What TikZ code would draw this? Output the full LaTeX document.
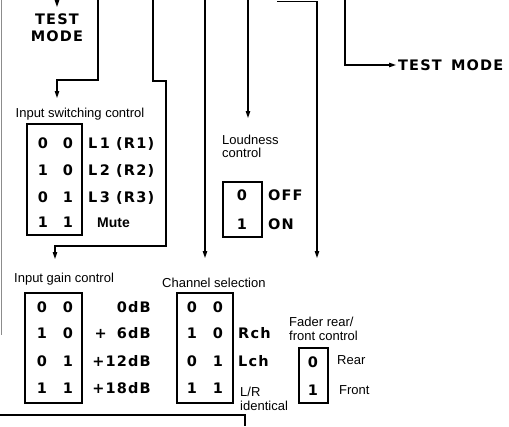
\documentclass[tikz,border=0pt]{standalone}
\usepackage{fontspec}
\setmainfont{Liberation Sans}
\newfontfamily\widefont[LetterSpace=8]{DejaVu Sans Bold}
\usetikzlibrary{arrows.meta}
\begin{document}
\begin{tikzpicture}[x=1pt,y=-1pt,
  wire/.style={line width=1.1pt},
  arr/.style={wire,-{Triangle[length=7pt,width=4.5pt]}},
  lbl/.style={font=\fontsize{13}{14}\selectfont, inner sep=0pt, text height=9.3pt, text depth=0pt},
  big/.style={font=\widefont\fontsize{14.5}{16}\selectfont, inner sep=0pt, text height=10.6pt, text depth=0pt},
  tmode/.style={font=\widefont\fontsize{14.5}{17}\selectfont, inner sep=0pt, align=center},
  bitbox/.style={draw, line width=1.1pt, inner sep=0pt}]
\useasboundingbox (0,0) rectangle (509,426);

% ---------- boxes
\node[bitbox, minimum width=55pt, minimum height=111pt] (swb) at (54.5,179.5) {};
\node[bitbox, minimum width=57pt, minimum height=110pt] (gnb) at (53.5,348) {};
\node[bitbox, minimum width=56pt, minimum height=110pt] (chb) at (205,348) {};
\node[bitbox, minimum width=39pt, minimum height=55pt] (ldb) at (242.5,209.5) {};
\node[bitbox, minimum width=29pt, minimum height=55pt] (fdb) at (313.5,375.5) {};

% ---------- titles
\node[tmode] (tm1) at (57,28) {TEST\\MODE};
\node[tmode, anchor=west] (tm2) at (398,65) {TEST\hspace{3pt} MODE};
\node[lbl] (swl) at (80,113) {Input switching control};
\node[lbl, anchor=west] (gnl) at (14,278) {Input gain control};
\node[lbl, anchor=west] (chl) at (162,283) {Channel selection};
\node[lbl, anchor=west] (ldl1) at (222,140) {Loudness};
\node[lbl, anchor=west] (ldl2) at (222,153) {control};
\node[lbl, anchor=west] (fdl1) at (289,322) {Fader rear/};
\node[lbl, anchor=west] (fdl2) at (289,336) {front control};

% ---------- input switching
\foreach \r/\a/\b/\t [count=\i] in {143/0/0/{L\,1 (R1)},170/1/0/{L\,2 (R2)},197/0/1/{L\,3 (R3)}}{
  \node[big] (swa\i) at (43,\r) {\a};
  \node[big] (swc\i) at (68,\r) {\b};
  \node[big, anchor=west] (swt\i) at (88,\r) {\t};
}
\node[big] (swa4) at (43,222) {1};
\node[big] (swc4) at (68,222) {1};
\node[lbl, anchor=west, text height=10pt, font=\bfseries\fontsize{14}{15}\selectfont] (swt4) at (97,222) {Mute};

% ---------- input gain
\foreach \r/\a/\b/\t [count=\i] in {307/0/0/{0dB},333/1/0/{+\hphantom{1}6dB},361/0/1/{+12dB},388/1/1/{+18dB}}{
  \node[big] (gna\i) at (42,\r) {\a};
  \node[big] (gnc\i) at (68,\r) {\b};
  \node[big, anchor=east] (gnt\i) at (151,\r) {\t};
}

% ---------- channel selection
\foreach \r/\a/\b [count=\i] in {307/0/0,333/1/0,361/0/1,388/1/1}{
  \node[big] (cha\i) at (192,\r) {\a};
  \node[big] (chc\i) at (218,\r) {\b};
}
\node[big, anchor=west] (cht2) at (238,333) {Rch};
\node[big, anchor=west] (cht3) at (238,361) {Lch};
\node[lbl, anchor=west] (cht4a) at (240,392) {L/R};
\node[lbl, anchor=west] (cht4b) at (240,406) {identical};

% ---------- loudness
\node[big] (lda1) at (242,195) {0};
\node[big] (lda2) at (242,224) {1};
\node[big, anchor=west] (ldt1) at (268,195) {OFF};
\node[big, anchor=west] (ldt2) at (268,224) {ON};

% ---------- fader
\node[big] (fda1) at (313,362) {0};
\node[big] (fda2) at (313,390) {1};
\node[lbl, anchor=west] (fdt1) at (337,360) {Rear};
\node[lbl, anchor=west] (fdt2) at (339,390) {Front};

% ---------- connector coordinates
\coordinate (p1) at (57,0);    \coordinate (e1) at (57,7);
\coordinate (p2) at (98,0);    \coordinate (b2) at (98,80);  \coordinate (c2) at (57,80); \coordinate (e2) at (57,98);
\coordinate (p3) at (153,0);   \coordinate (b3) at (153,81); \coordinate (c3) at (166,81);
\coordinate (d3) at (166,246); \coordinate (f3) at (55,246); \coordinate (e3) at (55,259);
\coordinate (p4) at (205,0);   \coordinate (e4) at (205,258);
\coordinate (p5) at (248,0);   \coordinate (e5) at (248,118);
\coordinate (p6) at (277,1.5); \coordinate (b6) at (317,1.5); \coordinate (e6) at (317,258);
\coordinate (p7) at (345,0);   \coordinate (b7) at (345,65);  \coordinate (e7) at (396,65);
\coordinate (q1) at (0,415);   \coordinate (q2) at (245,415); \coordinate (q3) at (245,426);
\coordinate (l1) at (1.5,0);   \coordinate (l2) at (1.5,335);

% ---------- connectors
\draw[arr] (p1) -- (e1);
\draw[arr] (p2) -- (b2) -- (c2) -- (e2);
\draw[arr] (p3) -- (b3) -- (c3) -- (d3) -- (f3) -- (e3);
\draw[arr] (p4) -- (e4);
\draw[arr] (p5) -- (e5);
\draw[arr] (p6) -- (b6) -- (e6);
\draw[arr] (p7) -- (b7) -- (e7);
\draw[wire] (q1) -- (q2) -- (q3);
\draw[line width=0.6pt, black!45] (l1) -- (l2);
\end{tikzpicture}
\end{document}
